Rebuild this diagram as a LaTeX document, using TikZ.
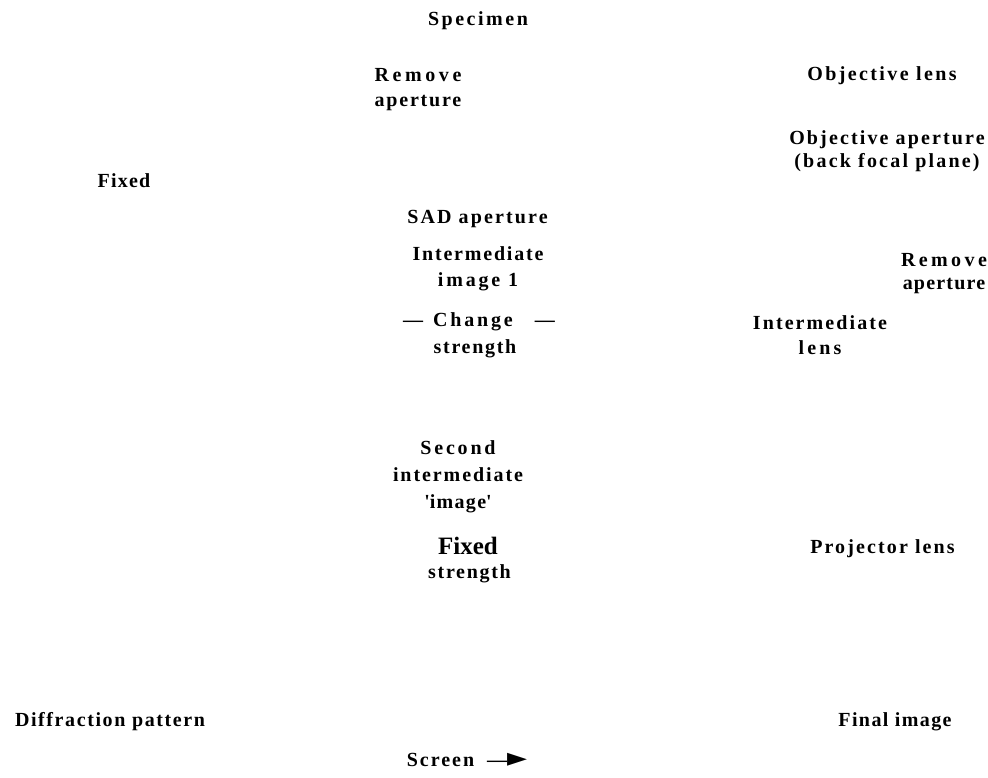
\documentclass[tikz,border=0pt]{standalone}
\usepackage{fontspec}
\setmainfont{Liberation Serif}
\newfontfamily\symfont{DejaVu Sans}
\begin{document}
\begin{tikzpicture}[x=1pt,y=-1pt,
  lbl/.style={font=\bfseries\fontsize{20}{#1}\selectfont, align=center, inner sep=0pt, anchor=base},
  lbl/.default=25,
  big/.style={font=\bfseries\fontsize{25}{27}\selectfont, inner sep=0pt, anchor=base}]
\newcommand{\ls}[2]{{\addfontfeatures{LetterSpace=#1}#2}}
\useasboundingbox (0,0) rectangle (988,778);
\node[lbl] (specimen) at (478,26) {\ls{12.7}{Specimen}};
\node[lbl] (rem1) at (418,107) {\ls{18}{Remove}\\\ls{9}{aperture}};
\node[lbl] (objlens) at (882,81) {\ls{12}{Objective lens}};
\node[lbl=23] (objap) at (887,168) {\ls{10.7}{Objective aperture}\\\ls{11}{(back focal plane)}};
\node[lbl] (fixed1) at (124,188) {\ls{6}{Fixed}};
\node[lbl] (sad) at (477.5,224) {\ls{10.7}{SAD aperture}};
\node[lbl=26] (im1) at (478,286) {\ls{9}{Intermediate}\\\ls{14}{image 1}};
\node[lbl=27] (change) at (475,353) {\hspace*{8pt}—\hspace{10pt}\ls{14}{Change}\hspace{22pt}—\\\ls{8.5}{strength}};
\node[lbl=23] (rem2) at (944,289) {\ls{17}{Remove}\\\ls{6}{aperture}};
\node[lbl] (intlens) at (820,354) {\ls{10.5}{Intermediate}\\\ls{16}{lens}};
\node[lbl=27] (second) at (458,508) {\ls{14}{Second}\\\ls{9.6}{intermediate}\\\ls{6.5}{\textquotesingle image\textquotesingle}};
\node[big] (fixed2) at (468,554) {Fixed};
\node[lbl] (strength) at (469.5,578) {\ls{8.5}{strength}};
\node[lbl] (proj) at (882.5,553) {\ls{10.6}{Projector lens}};
\node[lbl] (diff) at (110,726) {\ls{8}{Diffraction pattern}};
\node[lbl] (final) at (895,726) {\ls{7}{Final image}};
\node[lbl] (screen) at (467,766) {\ls{10}{Screen}\hspace{13pt}—{\symfont\fontsize{26}{26}\selectfont ►}};
\end{tikzpicture}
\end{document}
